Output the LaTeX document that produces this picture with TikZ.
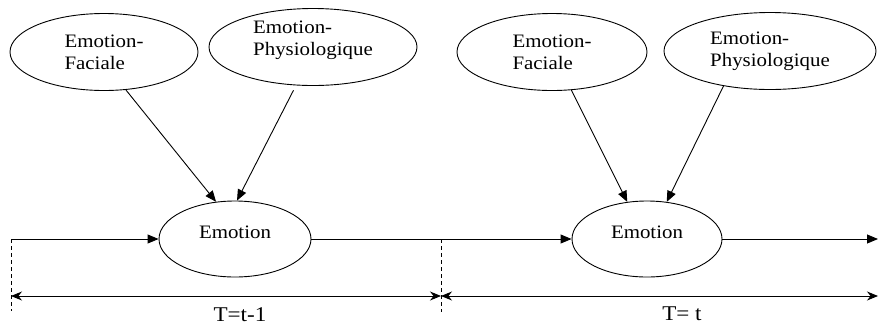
\documentclass[tikz,border=0pt]{standalone}
\usepackage{fontspec}
\setmainfont{Liberation Serif}
\newfontfamily\refserif[FakeStretch=1.1]{Liberation Serif}
\usetikzlibrary{arrows.meta,shapes.geometric}
\begin{document}
\begin{tikzpicture}[x=1pt,y=-1pt,
  every node/.style={font=\refserif\fontsize{19}{22}\selectfont},
  oval/.style={draw,ellipse,line width=0.9pt,inner sep=0pt,align=left},
  emo/.style={oval,minimum width=152pt,minimum height=76pt,text height=13pt,text depth=14pt},
  conn/.style={line width=0.9pt,-{Triangle[length=11pt,width=9pt]}},
  span/.style={line width=0.9pt,{Stealth[length=11pt,width=9pt]}-{Stealth[length=11pt,width=9pt]}},
  guide/.style={line width=0.9pt,dash pattern=on 4pt off 3pt}]
\useasboundingbox (0,0) rectangle (879,325);
% left slice
\node[oval,minimum width=188pt,minimum height=77pt] (fac1) at (104,52) {Emotion-\\Faciale};
\node[oval,minimum width=208pt,minimum height=77pt] (phy1) at (313,47) {Emotion-\\Physiologique\\[-4pt]};
\node[emo] (emo1) at (235,239) {Emotion};
% right slice
\node[oval,minimum width=190pt,minimum height=77pt] (fac2) at (552,52) {Emotion-\\Faciale};
\node[oval,minimum width=212pt,minimum height=77pt] (phy2) at (770,51) {Emotion-\\Physiologique};
\node[emo,minimum width=150pt] (emo2) at (647,239) {Emotion};
% coordinates
\coordinate (l0) at (11,239);
\coordinate (mid) at (441,239);
\coordinate (r0) at (878,239);
\coordinate (dl) at (11,311);
\coordinate (dm) at (441,312);
\coordinate (sl) at (11,296);
\coordinate (sm) at (441,296);
\coordinate (sr) at (878,296);
% influence arrows
\draw[conn] (fac1.-60) -- (emo1.117);
\draw[conn] ([yshift=-5pt]phy1.-117) -- (emo1.87);
\draw[conn] (fac2.-63) -- (emo2.118);
\draw[conn] (phy2.-143) -- (emo2.62);
% time line
\draw[conn] (l0) -- (emo1.west);
\draw[conn] (emo1.east) -- (emo2.west);
\draw[conn] (emo2.east) -- (r0);
% dividers
\draw[guide] (l0) -- (dl);
\draw[guide] (mid) -- (dm);
% spans
\draw[span] (sl) -- (sm);
\draw[span] (sm) -- (sr);
\node[font=\refserif\fontsize{21}{22}\selectfont] (t1) at (240,315) {T=t-1};
\node[font=\refserif\fontsize{21}{22}\selectfont] (t2) at (682,314) {T= t};
\end{tikzpicture}
\end{document}
